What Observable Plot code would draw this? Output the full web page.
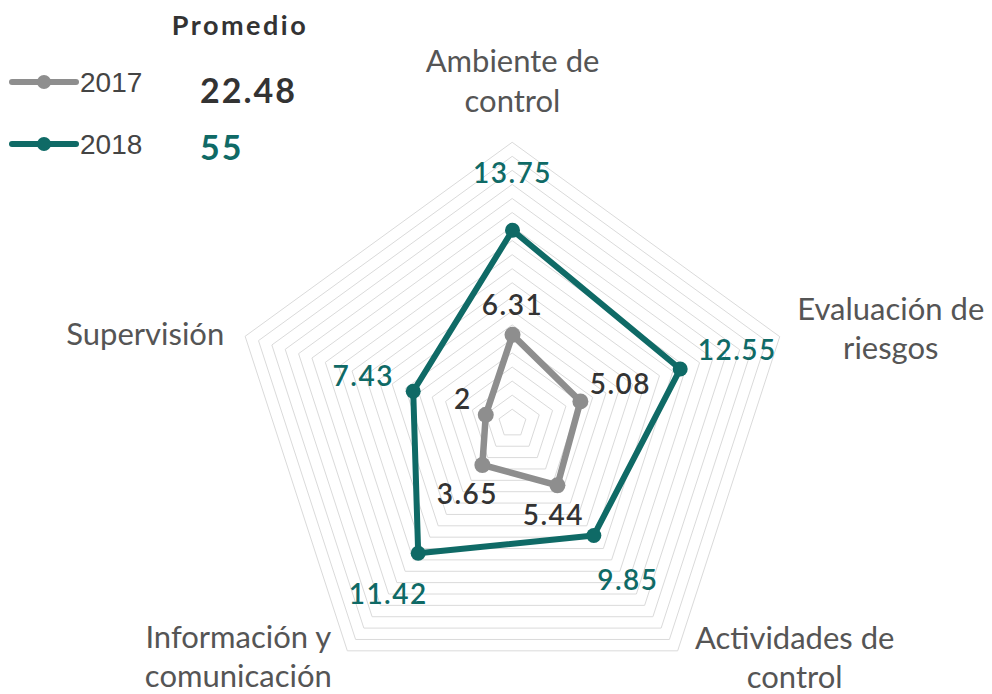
<!DOCTYPE html>
<html>
<head>
<meta charset="utf-8">
<script src="https://cdn.jsdelivr.net/npm/d3@7"></script>
<script src="https://cdn.jsdelivr.net/npm/@observablehq/plot@0.6"></script>
<style>
  html, body { margin: 0; padding: 0; background: #fff; }
  #wrap { position: relative; width: 992px; height: 694px; overflow: hidden; }
  #legend { position: absolute; left: 0; top: 0; }
</style>
</head>
<body>
<div id="wrap"></div>
<script>
// ---- data ----
const axes = ["Ambiente de\ncontrol", "Evaluación de\nriesgos", "Actividades de\ncontrol", "Información y\ncomunicación", "Supervisión"];
const values2017 = [6.31, 5.08, 5.44, 3.65, 2];
const values2018 = [13.75, 12.55, 9.85, 11.42, 7.43];
const years = ["2017", "2018"];
const averages = ["22.48", "55"];
const maxValue = 20;
const ringStep = 1;

// ---- layout / style constants ----
const teal = "#0f6a66";
const gray = "#8e8e8e";
const cx = 512, cy = 423, R = 281;
const off2018 = [[0, -56], [57, -18], [34, 46], [-30, 42], [-50, -14]];
const off2017 = [[0, -29], [40, -16], [-4, 31], [-15, 30], [-23, -15]];
const offAxis = [[0, -63], [111, -10], [117, 5], [-109, 4], [-100, -4]];

const n = axes.length;
const ang = i => i * 2 * Math.PI / n;
const polar = (v, i) => ({x: v * Math.sin(ang(i)), y: v * Math.cos(ang(i))});

const rings = d3.range(ringStep, maxValue + ringStep / 2, ringStep)
  .flatMap(k => axes.map((a, i) => ({k, ...polar(k, i)})));
const pts2017 = values2017.map((v, i) => ({v, ...polar(v, i)}));
const pts2018 = values2018.map((v, i) => ({v, ...polar(v, i)}));
const axisPts = axes.map((a, i) => ({a, ...polar(maxValue, i)}));

const font = "Lato, 'Noto Sans', sans-serif";

const marks = [
  Plot.line(rings, {x: "x", y: "y", z: "k", curve: "linear-closed", stroke: "#dadada", strokeWidth: 1}),
  Plot.line(pts2018, {x: "x", y: "y", curve: "linear-closed", stroke: teal, strokeWidth: 6, strokeLinejoin: "round"}),
  Plot.dot(pts2018, {x: "x", y: "y", r: 7.5, fill: teal}),
  Plot.line(pts2017, {x: "x", y: "y", curve: "linear-closed", stroke: gray, strokeWidth: 6.5, strokeLinejoin: "round"}),
  Plot.dot(pts2017, {x: "x", y: "y", r: 8, fill: gray}),
  ...pts2018.map((d, i) => Plot.text([d], {x: "x", y: "y", text: d => String(d.v), dx: off2018[i][0], dy: off2018[i][1],
      fill: teal, fontSize: 28, fontWeight: 600})),
  ...pts2017.map((d, i) => Plot.text([d], {x: "x", y: "y", text: d => String(d.v), dx: off2017[i][0], dy: off2017[i][1],
      fill: "#333", fontSize: 28, fontWeight: 600})),
  ...axisPts.map((d, i) => Plot.text([d], {x: "x", y: "y", text: "a", dx: offAxis[i][0], dy: offAxis[i][1],
      fill: "#555", fontSize: 31, lineHeight: 1.27}))
];

const chart = Plot.plot({
  width: 992, height: 694, margin: 0,
  style: {fontFamily: font, background: "#fff"},
  x: {domain: [-maxValue, maxValue], range: [cx - R, cx + R], axis: null},
  y: {domain: [-maxValue, maxValue], range: [cy + R, cy - R], axis: null},
  marks
});
// spaced-out numeric labels
d3.select(chart).selectAll("text").filter(function () { return /^[0-9.]+$/.test(this.textContent); })
  .attr("letter-spacing", 1.5);
document.getElementById("wrap").appendChild(chart);

// ---- legend ----
const colors = [gray, teal];
const avgFill = ["#333", teal];
const lg = d3.select("#wrap").append("svg").attr("id", "legend")
  .attr("width", 330).attr("height", 180).style("font-family", font);
lg.append("text").attr("x", 240).attr("y", 35).attr("text-anchor", "middle")
  .attr("font-size", 27).attr("font-weight", 700).attr("letter-spacing", 2.5).attr("fill", "#333").text("Promedio");
years.forEach((yr, i) => {
  const yy = 82 + i * 62;
  lg.append("line").attr("x1", 12).attr("x2", 76).attr("y1", yy).attr("y2", yy)
    .attr("stroke", colors[i]).attr("stroke-width", 6).attr("stroke-linecap", "round");
  lg.append("circle").attr("cx", 44).attr("cy", yy).attr("r", 7).attr("fill", colors[i]);
  lg.append("text").attr("x", 80).attr("y", yy + 10).attr("font-size", 28)
    .attr("font-family", "'Liberation Sans', Arial, sans-serif").attr("fill", "#444").text(yr);
  lg.append("text").attr("x", 200).attr("y", 103 + i * 57).attr("font-size", 34).attr("font-weight", 700)
    .attr("letter-spacing", 2).attr("fill", avgFill[i]).text(averages[i]);
});
</script>
</body>
</html>
